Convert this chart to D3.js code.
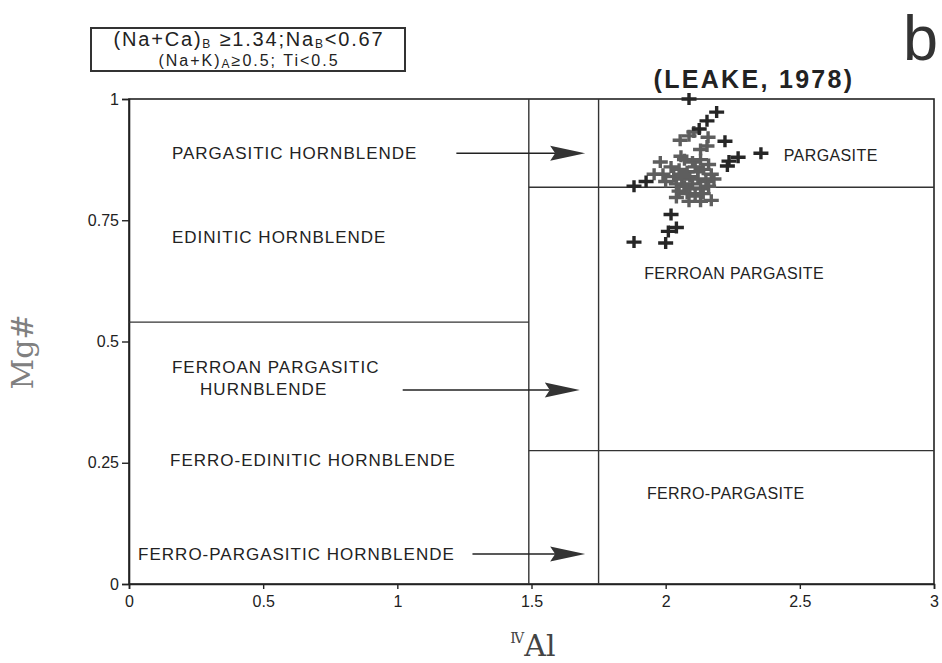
<!DOCTYPE html>
<html><head><meta charset="utf-8">
<script src="https://cdn.jsdelivr.net/npm/d3@7"></script>
<style>
html,body{margin:0;padding:0;background:#fff;}
svg{font-family:"Liberation Sans",Arial,sans-serif;}
</style></head>
<body>
<svg id="c" width="942" height="663"></svg>
<script>
// ---- data ----
const xTicks = [0, 0.5, 1, 1.5, 2, 2.5, 3];
const yTicks = [0, 0.25, 0.5, 0.75, 1];
const xTickLabels = ["0", "0.5", "1", "1.5", "2", "2.5", "3"];
const yTickLabels = ["0", "0.25", "0.5", "0.75", "1"];

// field boundaries [x1, x2, y1, y2]
const boundaries = [
  [1.49, 1.49, 0, 1],
  [1.75, 1.75, 0, 1],
  [0, 1.49, 0.54, 0.54],
  [1.49, 3, 0.818, 0.818],
  [1.49, 3, 0.275, 0.275]
];
// arrows [xStart, xEnd, y]
const arrows = [
  [1.22, 1.70, 0.888],
  [1.02, 1.68, 0.40],
  [1.28, 1.70, 0.062]
];
const fieldNames = ["PARGASITIC HORNBLENDE", "EDINITIC HORNBLENDE", "FERROAN PARGASITIC", "HURNBLENDE",
  "FERRO-EDINITIC HORNBLENDE", "FERRO-PARGASITIC HORNBLENDE", "PARGASITE", "FERROAN PARGASITE", "FERRO-PARGASITE"];
const fieldX = [0.16, 0.16, 0.16, 0.265, 0.153, 0.034, 2.44, 1.92, 1.93];
const fieldY = [0.877, 0.704, 0.436, 0.389, 0.243, 0.049, 0.872, 0.628, 0.175];
const fieldSide = ["L", "L", "L", "L", "L", "L", "R", "R", "R"];

// samples (IV Al, Mg#)
const darkPoints = [
  [2.087,1.0],[2.19,0.973],[2.154,0.955],[2.125,0.938],[2.221,0.913],[2.355,0.888],[2.27,0.88],
  [2.236,0.872],[2.23,0.862],[1.882,0.82],[1.927,0.83],[2.02,0.762],[2.04,0.735],[2.01,0.727],
  [1.882,0.705],[2.0,0.703]
];
const greyPoints = [
  [2.105,0.932],[2.087,0.924],[2.054,0.915],[2.158,0.921],[2.154,0.903],[2.13,0.896],[1.98,0.87],
  [2.057,0.882],[1.957,0.845],[2.04,0.797],[2.087,0.789],[2.13,0.789],[2.17,0.791],
  [2.02,0.86],[2.05,0.855],[2.08,0.85],[2.11,0.86],[2.14,0.855],[2.17,0.845],[2.03,0.84],
  [2.06,0.835],[2.09,0.84],[2.12,0.835],[2.15,0.83],[2.0,0.83],[2.04,0.825],[2.07,0.82],
  [2.1,0.825],[2.13,0.815],[2.16,0.82],[2.05,0.81],[2.08,0.805],[2.11,0.8],[2.14,0.805],
  [1.99,0.845],[2.1,0.87],[2.07,0.875],[2.13,0.875],[2.16,0.865],[2.12,0.85],[2.09,0.815],
  [2.06,0.845],[2.18,0.835]
];

// ---- chart ----
const svg = d3.select("#c");
const x = d3.scaleLinear().domain([0, 3]).range([129, 934]);
const y = d3.scaleLinear().domain([0, 1]).range([584, 99]);
const SANS = "'Liberation Sans', Arial, sans-serif";
const SERIF = "'DejaVu Serif', 'Liberation Serif', serif";

// frame
svg.append("rect").attr("x", x(0)).attr("y", y(1)).attr("width", x(3) - x(0)).attr("height", y(0) - y(1))
  .attr("fill", "none").attr("stroke", "#222").attr("stroke-width", 1.6);

// axes
const yAxis = d3.axisLeft(y).tickValues(yTicks).tickFormat((d, i) => yTickLabels[i]).tickSize(7).tickPadding(3);
const gy = svg.append("g").attr("transform", `translate(${x(0)},0)`).call(yAxis);
const xAxis = d3.axisBottom(x).tickValues(xTicks).tickFormat((d, i) => xTickLabels[i]).tickSize(5).tickPadding(7);
const gx = svg.append("g").attr("transform", `translate(0,${y(0)})`).call(xAxis);
[gx, gy].forEach(g => {
  g.select(".domain").attr("stroke", "#222").attr("stroke-width", 1.6);
  g.selectAll(".tick line").attr("stroke", "#222").attr("stroke-width", 1.4);
  g.selectAll(".tick text").style("font-size", "16px").style("fill", "#222").style("font-family", SANS);
});

// boundaries
svg.append("g").selectAll("line").data(boundaries).join("line")
  .attr("x1", d => x(d[0])).attr("x2", d => x(d[1]))
  .attr("y1", d => y(d[2])).attr("y2", d => y(d[3]))
  .attr("stroke", "#333").attr("stroke-width", 1.4);

// arrows
const ag = svg.append("g");
arrows.forEach(a => {
  const xs = x(a[0]), xe = x(a[1]), yy = y(a[2]);
  ag.append("line").attr("x1", xs).attr("x2", xe - 30).attr("y1", yy).attr("y2", yy)
    .attr("stroke", "#222").attr("stroke-width", 1.5);
  ag.append("path")
    .attr("d", `M${xe},${yy} L${xe - 35},${yy - 7.5} L${xe - 30},${yy} L${xe - 35},${yy + 7.5} Z`)
    .attr("fill", "#333");
});

// field labels
svg.append("g").selectAll("text").data(fieldNames).join("text")
  .attr("x", (d, i) => x(fieldX[i])).attr("y", (d, i) => y(fieldY[i]))
  .attr("fill", "#222")
  .attr("font-size", (d, i) => fieldSide[i] === "L" ? 17 : 16)
  .attr("letter-spacing", (d, i) => fieldSide[i] === "L" ? 1.0 : 0.4)
  .text(d => d);

// samples
function cross(g, pts, color) {
  g.selectAll("path").data(pts).join("path")
    .attr("transform", d => `translate(${x(d[0])},${y(d[1])})`)
    .attr("d", "M-7.5,0H7.5M0,-6V6")
    .attr("stroke", color).attr("stroke-width", 3.4).attr("fill", "none");
}
cross(svg.append("g"), greyPoints, "#5e5e5e");
cross(svg.append("g"), darkPoints, "#262626");

// title
svg.append("text").attr("x", 754).attr("y", 88).attr("text-anchor", "middle").attr("fill", "#222")
  .attr("font-size", 25).attr("font-weight", "bold").attr("letter-spacing", 2.3).text("(LEAKE, 1978)");
svg.append("text").attr("x", 903).attr("y", 60).attr("font-size", 63).attr("fill", "#333").text("b");

// condition box
svg.append("rect").attr("x", 91).attr("y", 28).attr("width", 314).attr("height", 43)
  .attr("fill", "none").attr("stroke", "#333").attr("stroke-width", 2);
const t1 = svg.append("text").attr("x", 249).attr("y", 46).attr("text-anchor", "middle").attr("fill", "#222")
  .attr("font-size", 20).attr("letter-spacing", 1.8);
t1.append("tspan").text("(Na+Ca)");
t1.append("tspan").attr("font-size", 12).attr("dy", 2).text("B");
t1.append("tspan").attr("dy", -2).text(" \u22651.34;Na");
t1.append("tspan").attr("font-size", 12).attr("dy", 2).text("B");
t1.append("tspan").attr("dy", -2).text("<0.67");
const t2 = svg.append("text").attr("x", 249).attr("y", 66).attr("text-anchor", "middle").attr("fill", "#222")
  .attr("font-size", 16).attr("letter-spacing", 2.0);
t2.append("tspan").text("(Na+K)");
t2.append("tspan").attr("font-size", 12).attr("dy", 2).text("A");
t2.append("tspan").attr("dy", -2).text("\u22650.5; Ti<0.5");

// axis titles
svg.append("text").attr("transform", "translate(33,352) rotate(-90)").attr("text-anchor", "middle")
  .style("font-family", SERIF).attr("font-size", 30)
  .attr("fill", "#808080").text("Mg#");
const xl = svg.append("text").attr("x", 533).attr("y", 656).attr("text-anchor", "middle")
  .style("font-family", SERIF).attr("font-size", 30).attr("fill", "#444");
xl.append("tspan").attr("font-size", 14).attr("dy", -13).text("\u2163");
xl.append("tspan").attr("dy", 13).text("Al");
</script>
</body></html>
